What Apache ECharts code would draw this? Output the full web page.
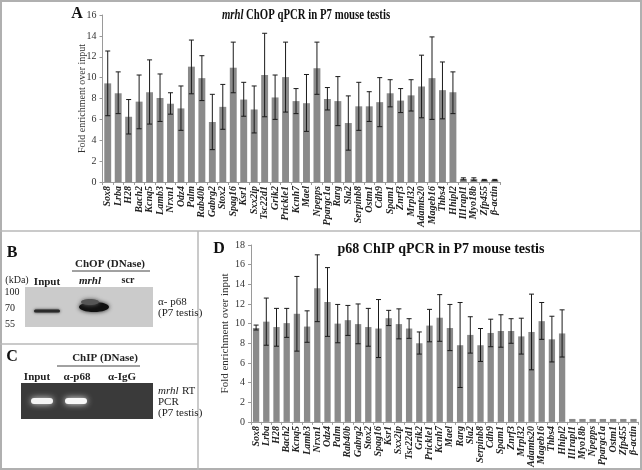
<!DOCTYPE html>
<html><head><meta charset="utf-8">
<script src="https://cdn.jsdelivr.net/npm/echarts@6/dist/echarts.min.js"></script>
<style>html,body{margin:0;padding:0;background:#fff}#c{width:642px;height:470px}</style>
</head><body><div id="c"></div>
<script>
// Panel A: mrhl ChOP qPCR
const catsA = ['Sox8','Lrba','H28','Bach2','Kcnq5','Lamb3','Nrxn1','Odz4','Palm','Rab40b','Gabrg2','Stox2','Spag16','Ksr1','Sxx2ip','Tsc22d1','Grik2','Prickle1','Kcnh7','Mael','Npepps','Ppargc1a','Rarg','Sla2','Serpinb8','Ostm1','Cdh9','Spam1','Znrf3','Mrpl32','Adamts20','Mageb16','Thbs4','Hhipl2','Il1rapl1','Myo18b','Zfp455','β-actin'];
const valA = [9.45,8.5,6.25,7.7,8.6,8.05,7.5,7.05,11.05,9.95,5.75,7.2,10.95,7.9,6.95,10.25,8.1,10.05,7.75,7.55,10.9,7.95,7.75,5.65,7.25,7.25,7.65,8.5,7.8,8.3,9.15,9.95,8.8,8.6,0.3,0.28,0.2,0.2];
const hiA = [12.55,10.55,7.9,10.25,11.7,10.35,8.55,9.2,13.6,12.1,8.4,9.35,13.4,9.55,9.2,14.25,10.25,13.4,8.95,10.3,13.4,9.05,10.1,8.25,9.55,8.65,10.0,9.8,8.95,9.8,12.15,13.9,11.5,10.55,0.4,0.4,0.25,0.25];
const loA = [6.35,6.55,4.6,5.1,5.55,5.8,6.5,4.95,8.45,7.8,3.1,5.05,8.55,6.3,4.7,6.25,6.0,6.7,6.55,4.85,8.4,6.9,5.4,3.05,4.95,5.8,5.3,7.2,6.65,6.8,6.15,6.0,6.05,6.55,0.2,0.16,0.15,0.15];
const ticksA = {min:0, max:16, interval:2};

// Panel D: p68 ChIP qPCR
const catsD = ['Sox8','Lrba','H28','Bach2','Kcnq5','Lamb3','Nrxn1','Odz4','Palm','Rab40b','Gabrg2','Stox2','Spag16','Ksr1','Sxx2ip','Tsc22d1','Grik2','Prickle1','Kcnh7','Mael','Rarg','Sla2','Serpinb8','Cdh9','Spam1','Znrf3','Mrpl32','Adamts20','Mageb16','Thbs4','Hhipl2','Il1rapl1','Myo18b','Npepps','Ppargc1a','Ostm1','Zfp455','β-actin'];
const valD = [9.55,10.2,9.65,10.05,11.0,9.7,13.6,12.2,10.0,10.35,9.95,9.65,9.5,10.55,9.95,9.5,8.0,9.8,10.6,9.55,7.8,8.85,7.8,9.05,9.25,9.25,8.7,9.15,10.25,8.4,9.0,0.3,0.3,0.3,0.3,0.3,0.3,0.3];
const hiD = [9.85,12.6,11.55,11.55,14.8,11.3,17.0,15.7,11.95,11.85,12.0,11.55,12.45,11.35,11.5,10.5,9.15,11.45,12.95,11.95,12.15,10.7,9.5,10.45,10.9,10.5,10.55,13.0,12.15,10.75,11.4,null,null,null,null,null,null,null];
const loD = [9.35,7.8,7.7,8.6,7.2,8.1,10.2,8.7,8.05,8.8,7.95,7.7,6.55,9.8,8.45,8.5,6.9,8.15,8.2,7.25,3.5,7.0,6.15,7.65,7.6,8.0,6.9,5.3,8.4,6.1,6.6,null,null,null,null,null,null,null];
const ticksD = {min:0, max:18, interval:2};

const SERIF = '"Liberation Serif","DejaVu Serif",serif';
const BAR = '#8a8a8a';

function errData(hi, lo){
  const out = [];
  hi.forEach((h,i)=>{ if(h!=null) out.push([i, lo[i], h]); });
  return out;
}
function renderErr(params, api){
  const x = api.value(0);
  const pL = api.coord([x, api.value(1)]);
  const pH = api.coord([x, api.value(2)]);
  const w = 2.5;
  const st = {stroke:'#1a1a1a', lineWidth:1};
  return {type:'group', children:[
    {type:'line', shape:{x1:pH[0],y1:pH[1],x2:pL[0],y2:pL[1]}, style:st},
    {type:'line', shape:{x1:pH[0]-w,y1:pH[1],x2:pH[0]+w,y2:pH[1]}, style:st},
    {type:'line', shape:{x1:pL[0]-w,y1:pL[1],x2:pL[0]+w,y2:pL[1]}, style:st}
  ]};
}
function xAxis(cats, gi){
  return {type:'category', gridIndex:gi, data:cats,
    axisLine:{lineStyle:{color:'#9a9a9a'}},
    axisTick:{show:true, length:3, lineStyle:{color:'#9a9a9a'}},
    axisLabel:{rotate:90, interval:0, fontFamily:SERIF, fontStyle:'italic', fontWeight:'bold', fontSize:10, color:'#222', margin:4}};
}
function yAxis(t, gi, gap, fs){
  return {type:'value', gridIndex:gi, min:t.min, max:t.max, interval:t.interval,
    name:'Fold enrichment over input', nameLocation:'middle', nameRotate:90, nameGap:gap, nameMoveOverlap:false,
    nameTextStyle:{fontFamily:SERIF, fontSize:fs, color:'#333'},
    splitLine:{show:false},
    axisLine:{show:true, lineStyle:{color:'#9a9a9a'}},
    axisTick:{show:true, length:3, lineStyle:{color:'#9a9a9a'}},
    axisLabel:{fontFamily:SERIF, fontSize:10, color:'#333', margin:6}};
}

const txt = (x,y,text,opt={}) => ({type:'text', x, y, style:Object.assign({text, fontFamily:SERIF, fontSize:11, fill:'#222', textAlign:'center', textVerticalAlign:'middle'}, opt)});
const ln = (x1,y1,x2,y2,c='#b8b8b8',w=1.5) => ({type:'line', shape:{x1,y1,x2,y2}, style:{stroke:c, lineWidth:w}});

const graphics = [
  // frame
  {type:'rect', shape:{x:1,y:1,width:640,height:468}, style:{fill:null, stroke:'#b0b0b0', lineWidth:2}},
  ln(0,231,642,231), ln(198,231,198,470), ln(0,344,198,344),
  // panel A title (condensed)
  {type:'text', x:306, y:15, scaleX:0.77,
   style:{text:'{i|mrhl} {n|ChOP qPCR in P7 mouse testis}', textAlign:'center', textVerticalAlign:'middle',
     rich:{i:{fontFamily:SERIF,fontStyle:'italic',fontWeight:'bold',fontSize:14,fill:'#111'},
           n:{fontFamily:SERIF,fontWeight:'bold',fontSize:14,fill:'#111'}}}},
  // panel labels
  txt(77,14,'A',{fontSize:16,fontWeight:'bold',fill:'#111'}),
  txt(219,249,'D',{fontSize:16,fontWeight:'bold',fill:'#111'}),
  txt(12,253,'B',{fontSize:16,fontWeight:'bold',fill:'#111'}),
  txt(12,357,'C',{fontSize:16,fontWeight:'bold',fill:'#111'}),
  // Panel B
  txt(110,264,'ChOP (DNase)',{fontWeight:'bold',fontSize:11}),
  ln(72,271,150,271,'#444',1),
  txt(17,280,'(kDa)',{fontSize:10}),
  txt(47,282,'Input',{fontWeight:'bold',fontSize:11}),
  txt(90,281,'mrhl',{fontWeight:'bold',fontStyle:'italic',fontSize:11}),
  txt(128,280,'scr',{fontWeight:'bold',fontSize:10}),
  {type:'rect', shape:{x:25,y:287,width:128,height:40}, style:{fill:'#cbcbcb'}},
  txt(12,292,'100',{fontSize:10}), txt(10,308,'70',{fontSize:10}), txt(10,324,'55',{fontSize:10}),
  {type:'rect', shape:{x:34,y:309.5,width:26,height:3,r:1.5}, style:{fill:'#2a2a2a', shadowBlur:3, shadowColor:'#333'}},
  {type:'ellipse', shape:{cx:94,cy:307,rx:15,ry:5}, style:{fill:'#111', shadowBlur:4, shadowColor:'#222'}},
  {type:'ellipse', shape:{cx:90,cy:302,rx:9,ry:3}, style:{fill:'#555', shadowBlur:4, shadowColor:'#666'}},
  txt(158,302,'α- p68',{textAlign:'left',fontSize:11}),
  txt(158,313,'(P7 testis)',{textAlign:'left',fontSize:11}),
  // Panel C
  txt(105,358,'ChIP (DNase)',{fontWeight:'bold',fontSize:11}),
  ln(57,366,140,366,'#444',1),
  txt(37,377,'Input',{fontWeight:'bold',fontSize:11}),
  txt(77,377,'α-p68',{fontWeight:'bold',fontSize:11}),
  txt(122,377,'α-IgG',{fontWeight:'bold',fontSize:11}),
  {type:'rect', shape:{x:21,y:383,width:132,height:36}, style:{fill:'#3a3a3a'}},
  {type:'rect', shape:{x:31,y:398,width:22,height:6,r:3}, style:{fill:'#f4f4f4', shadowBlur:6, shadowColor:'#ddd'}},
  {type:'rect', shape:{x:65,y:398,width:22,height:6,r:3}, style:{fill:'#f8f8f8', shadowBlur:6, shadowColor:'#eee'}},
  {type:'text', x:158, y:391, style:{rich:{i:{fontStyle:'italic',fontFamily:SERIF,fontSize:11,fill:'#222'},n:{fontFamily:SERIF,fontSize:11,fill:'#222'}}, text:'{i|mrhl} {n|RT}', textVerticalAlign:'middle'}},
  txt(158,402,'PCR',{textAlign:'left'}),
  txt(158,413,'(P7 testis)',{textAlign:'left'})
];

const option = {
  animation:false,
  backgroundColor:'#fff',
  title:[
    {text:'p68 ChIP qPCR in P7 mouse testis', left:436, top:237, textAlign:'center',
     textStyle:{fontFamily:SERIF,fontWeight:'bold',fontSize:14,color:'#111'}}
  ],
  grid:[
    {left:102.5, top:15, width:397.5, height:167},
    {left:251, top:245, width:387.6, height:178}
  ],
  xAxis:[xAxis(catsA,0), xAxis(catsD,1)],
  yAxis:[yAxis(ticksA,0,15,10), yAxis(ticksD,1,20,11)],
  series:[
    {type:'bar', xAxisIndex:0, yAxisIndex:0, data:valA, barWidth:'66%', itemStyle:{color:BAR}},
    {type:'custom', xAxisIndex:0, yAxisIndex:0, data:errData(hiA,loA), renderItem:renderErr, z:5},
    {type:'bar', xAxisIndex:1, yAxisIndex:1, data:valD, barWidth:'62%', itemStyle:{color:BAR}},
    {type:'custom', xAxisIndex:1, yAxisIndex:1, data:errData(hiD,loD), renderItem:renderErr, z:5}
  ],
  graphic:graphics
};
const chart = echarts.init(document.getElementById('c'), null, {renderer:'canvas'});
chart.setOption(option);
</script></body></html>
